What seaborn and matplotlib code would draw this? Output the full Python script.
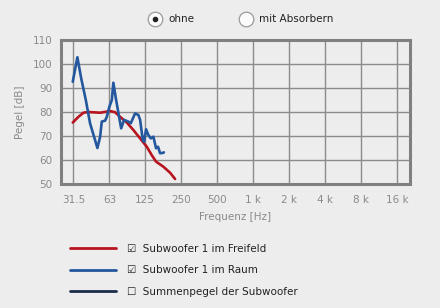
import matplotlib
matplotlib.use("Agg")
import matplotlib.pyplot as plt
from matplotlib.lines import Line2D
import seaborn as sns
import pandas as pd

# ---- data ----
freq_frei = [31.1, 34.7, 38.2, 42.0, 52.7, 63.9, 70.3, 77.4, 88.1, 100.0, 113.8,
             129.5, 142.5, 154.8, 178.2, 202.7, 223.2]
pegel_frei = [75.6, 78.0, 79.7, 80.0, 79.7, 80.4, 79.9, 78.0, 75.6, 72.5, 69.0,
              65.5, 62.0, 59.3, 57.2, 54.7, 52.1]

freq_raum = [31.1, 34.0, 36.6, 40.0, 43.4, 50.0, 52.7, 54.4, 58.0, 59.9, 63.0, 66.0,
             68.0, 71.7, 79.0, 83.6, 90.8, 95.1, 103.3, 110.1, 113.8, 119.9, 122.9,
             127.7, 133.5, 139.8, 147.0, 154.8, 160.9, 167.2, 178.2, 180.0]
pegel_raum = [92.6, 102.8, 94.0, 85.0, 75.3, 65.0, 69.7, 76.0, 76.4, 78.0, 82.2, 85.0,
              92.2, 85.0, 73.2, 76.7, 76.0, 75.3, 79.4, 78.75, 76.7, 68.3, 67.6,
              72.8, 70.4, 69.0, 69.7, 64.9, 65.5, 62.8, 63.0, 63.2]

xtick_vals = [31.5, 63, 125, 250, 500, 1000, 2000, 4000, 8000, 16000]
xtick_labels = ["31.5", "63", "125", "250", "500", "1 k", "2 k", "4 k", "8 k", "16 k"]
ytick_vals = [50, 60, 70, 80, 90, 100, 110]

series_names = ["Subwoofer 1 im Freifeld", "Subwoofer 1 im Raum", "Summenpegel der Subwoofer"]
series_checked = [True, True, False]
series_colors = ["#b8141f", "#23579e", "#1b2d4a"]
radio_labels = ["ohne", "mit Absorbern"]

# ---- style ----
BG = "#ededed"
GRID = "#8c8c8c"
TXT = "#8a8a8a"
sns.set_style("white")
plt.rcParams["font.family"] = ["DejaVu Sans"]

fig = plt.figure(figsize=(4.4, 3.08), dpi=100, facecolor=BG)
ax = fig.add_axes([61 / 440, 1 - 184 / 308, 349 / 440, 144 / 308])
ax.set_facecolor(BG)

df_frei = pd.DataFrame({"f": freq_frei, "L": pegel_frei})
df_raum = pd.DataFrame({"f": freq_raum, "L": pegel_raum})
sns.lineplot(data=df_frei, x="f", y="L", ax=ax, color=series_colors[0], lw=1.9,
             sort=False, zorder=3)
sns.lineplot(data=df_raum, x="f", y="L", ax=ax, color=series_colors[1], lw=1.9,
             sort=False, zorder=4)

ax.set_xscale("log", base=2)
ax.set_xlim(24.8, 20600)
ax.set_ylim(50, 110)
ax.set_xticks(xtick_vals)
ax.set_xticklabels(xtick_labels)
ax.minorticks_off()
ax.set_yticks(ytick_vals)
ax.grid(True, color=GRID, lw=1.0)
ax.set_axisbelow(True)
for s in ax.spines.values():
    s.set_color("#808080")
    s.set_linewidth(2.2)
ax.tick_params(axis="both", length=0, labelsize=7.5, labelcolor=TXT)
ax.tick_params(axis="x", pad=8)
ax.tick_params(axis="y", pad=6)
ax.set_xlabel("Frequenz [Hz]", fontsize=7.5, color=TXT, labelpad=5)
ax.set_ylabel("Pegel [dB]", fontsize=7.5, color=TXT, labelpad=6)

# ---- legend with checkboxes ----
handles = [Line2D([], [], color=c, lw=2.0) for c in series_colors]
labels = [("\u2611  " if chk else "\u2610  ") + n for n, chk in zip(series_names, series_checked)]
leg = fig.legend(handles, labels, loc="upper left", bbox_to_anchor=(70 / 440, 1 - 244 / 308),
                 frameon=False, fontsize=7.5, handlelength=4.4, handletextpad=1.05,
                 labelspacing=1.1, borderpad=0, borderaxespad=0)
for t in leg.get_texts():
    t.set_color("#222222")

# ---- radio buttons on top ----
ov = fig.add_axes([0, 0, 1, 1], zorder=5)
ov.set_xlim(0, 440)
ov.set_ylim(308, 0)
ov.axis("off")
ov.patch.set_alpha(0)
radio_x = [155, 246]
for i, (rx, lab) in enumerate(zip(radio_x, radio_labels)):
    ov.scatter([rx], [19], s=110, facecolor="#fbfbfb", edgecolor="#9a9a9a", lw=0.9)
    if i == 0:
        ov.scatter([rx], [19], s=9, color="#222222")
    ov.text(rx + 13, 19, lab, fontsize=7.5, color="#222222", va="center", ha="left")

fig.savefig("out.png", dpi=100, facecolor=BG)
